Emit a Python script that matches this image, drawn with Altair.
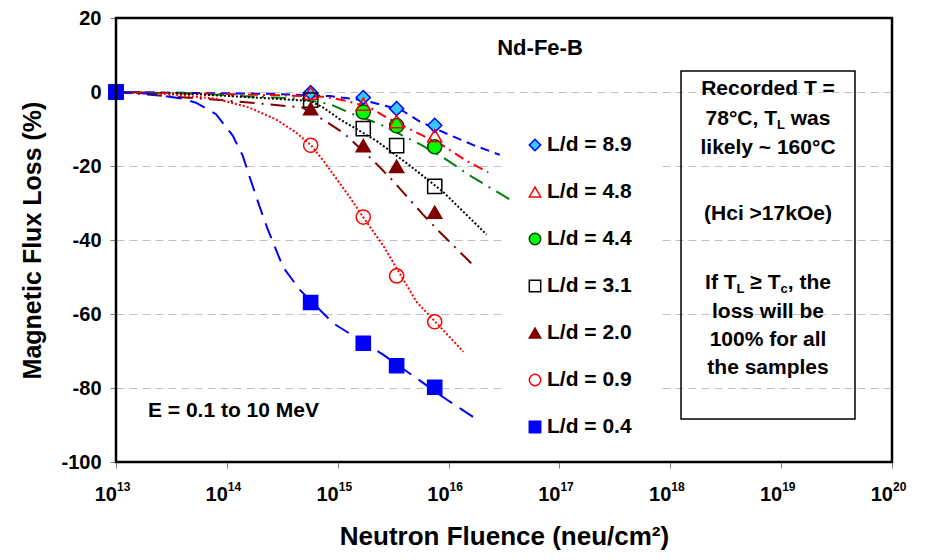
import altair as alt
import pandas as pd

# ---------------- data ----------------
series = ["L/d = 8.9", "L/d = 4.8", "L/d = 4.4", "L/d = 3.1",
          "L/d = 2.0", "L/d = 0.9", "L/d = 0.4"]

fluence = [1e13, 5.7e14, 1.7e15, 3.4e15, 7.5e15]
loss_89 = [0, -0.2, -1.5, -4.5, -9.0]
loss_48 = [0, -0.3, -3.3, -8.0, -11.8]
loss_44 = [0, None, -5.4, -9.1, -14.8]
loss_31 = [0, -2.2, -9.9, -14.5, -25.5]
loss_20 = [0, -4.5, -14.5, -20.1, -32.5]
loss_09 = [0, -14.4, -33.8, -49.7, -62.1]
loss_04 = [0, -56.9, -67.9, -74.0, -79.8]

# trend curves
c89_x = [1e13, 2.45e14, 8.51e14, 1.70e15, 3.77e15, 5.51e15, 9.86e15, 1.66e16, 2.90e16]
c89_y = [0, -0.5, -1.1, -2.2, -4.9, -8.0, -11.4, -14.3, -17.0]
c48_x = [1e13, 5.71e13, 3.01e14, 7.67e14, 1.20e15, 1.95e15, 2.76e15, 5.51e15, 8.93e15, 1.45e16, 2.28e16]
c48_y = [0, -0.4, -0.9, -1.3, -2.4, -4.2, -6.9, -11.4, -14.5, -18.6, -21.7]
c44_x = [1e13, 5.71e13, 1.61e14, 4.56e14, 8.51e14, 1.38e15, 2.40e15, 5.51e15, 8.93e15, 1.66e16, 3.70e16]
c44_y = [0, -0.5, -1.2, -1.8, -3.3, -6.0, -8.7, -14.1, -17.7, -23.1, -29.3]
c31_x = [1e13, 4.55e13, 1.07e14, 5.61e14, 7.40e14, 1.05e15, 2.24e15, 4.48e15, 8.93e15, 2.20e16]
c31_y = [0, -0.5, -1.1, -2.4, -4.2, -7.4, -13.2, -19.9, -27.0, -38.5]
c20_x = [1e13, 2.83e13, 7.45e13, 1.96e14, 4.82e14, 7.67e14, 1.12e15, 1.82e15, 2.32e15,
         3.13e15, 5.83e15, 8.36e15, 1.26e16, 1.64e16]
c20_y = [0, -1.1, -2.0, -3.1, -4.2, -7.8, -11.0, -16.8, -19.9, -23.9, -33.0, -37.9, -43.2, -46.6]
c09_x = [1e13, 2.82e13, 7.98e13, 1.59e14, 2.77e14, 4.20e14, 5.73e14, 7.40e14, 9.77e14,
         1.29e15, 1.67e15, 2.57e15, 5.14e15, 1.36e16]
c09_y = [0, -0.5, -1.8, -4.2, -7.4, -10.9, -14.4, -18.5, -23.5, -28.5, -33.5, -41.5, -56.7, -70.2]
c04_x = [1e13, 2.03e13, 3.99e13, 5.26e13, 7.98e13, 1.13e14, 1.39e14, 1.59e14, 1.96e14,
         2.33e14, 3.21e14, 4.56e14, 9.10e14, 2.57e15, 9.59e15, 1.76e16]
c04_y = [0, -0.5, -1.8, -2.9, -6.0, -11.8, -17.2, -22.6, -30.7, -37.0, -47.3, -53.5,
         -62.5, -71.0, -83.1, -88.3]

decades = [1e13, 1e14, 1e15, 1e16, 1e17, 1e18, 1e19, 1e20]
exponents = ["13", "14", "15", "16", "17", "18", "19", "20"]
y_ticks = [20, 0, -20, -40, -60, -80, -100]

title_text = "Nd-Fe-B"
energy_text = "E = 0.1 to 10 MeV"
x_title = "Neutron Fluence (neu/cm²)"
y_title = "Magnetic Flux Loss (%)"

# ---------------- styles ----------------
shapes = ["diamond", "triangle-up", "circle", "square", "triangle-up", "circle", "square"]
fills = ["#33CCFF", "transparent", "#00FF00", "transparent", "#800000", "transparent", "#0000FF"]
mstrokes = ["#0000FF", "#FF0000", "#004000", "#000000", "#800000", "#FF0000", "#0000FF"]
lstrokes = ["#0000FF", "#FF0000", "#008000", "#000000", "#800000", "#FF0000", "#0000FF"]
dashes = [[9, 6], [10, 5, 2, 5], [15, 7, 2, 7], [2, 2], [15, 7, 2, 7], [2, 2], [16, 9]]

FONT = "Liberation Sans"
W, H = 776, 444

# ---------------- tables ----------------
pt_loss = {"L/d = 8.9": loss_89, "L/d = 4.8": loss_48, "L/d = 4.4": loss_44,
           "L/d = 3.1": loss_31, "L/d = 2.0": loss_20, "L/d = 0.9": loss_09,
           "L/d = 0.4": loss_04}
curves = {"L/d = 8.9": (c89_x, c89_y), "L/d = 4.8": (c48_x, c48_y),
          "L/d = 4.4": (c44_x, c44_y), "L/d = 3.1": (c31_x, c31_y),
          "L/d = 2.0": (c20_x, c20_y), "L/d = 0.9": (c09_x, c09_y),
          "L/d = 0.4": (c04_x, c04_y)}

draw_order = ["L/d = 8.9", "L/d = 4.4", "L/d = 4.8", "L/d = 3.1",
              "L/d = 2.0", "L/d = 0.9", "L/d = 0.4"]
prow = []
for s in draw_order:
    for f, v in zip(fluence, pt_loss[s]):
        if v is not None:
            prow.append({"series": s, "fluence": f, "loss": v})
pts = pd.DataFrame(prow)

crow = []
for s in series:
    xs, ys = curves[s]
    for f, v in zip(xs, ys):
        crow.append({"series": s, "fluence": f, "loss": v})
cdf = pd.DataFrame(crow)

# ---------------- scales / axes ----------------
xsc = alt.Scale(type="log", domain=[1e13, 1e20], nice=False)
ysc = alt.Scale(domain=[-100, 20], nice=False, zero=False)

xaxis = alt.Axis(values=decades, labels=False, ticks=True, tickSize=6, tickColor="#808080",
                 tickWidth=1, domain=False, grid=False, title=x_title, titleFont=FONT,
                 titleFontSize=26, titleFontWeight="bold", titleColor="black",
                 titlePadding=55)
yaxis = alt.Axis(values=y_ticks, grid=True, gridDash=[8, 5], gridColor="#c0c0c0",
                 gridWidth=1, domain=False, tickSize=6, tickColor="#808080",
                 labelExpr="toString(datum.value)",
                 labelFont=FONT, labelFontSize=20, labelFontWeight="bold", labelColor="black",
                 labelPadding=9, title=y_title, titleFont=FONT, titleFontSize=25,
                 titleFontWeight="bold", titleColor="black", titlePadding=15)

X = alt.X("fluence:Q", scale=xsc, axis=xaxis)
Y = alt.Y("loss:Q", scale=ysc, axis=yaxis)

shape_enc = alt.Shape("series:N", scale=alt.Scale(domain=series, range=shapes), legend=None)
fill_enc = alt.Fill("series:N", scale=alt.Scale(domain=series, range=fills), legend=None)
mstroke_enc = alt.Stroke("series:N", scale=alt.Scale(domain=series, range=mstrokes), legend=None)

one = pd.DataFrame({"k": [0]})

legend_bg = alt.Chart(one).mark_rect(color="white").encode(
    x=alt.value(388), x2=alt.value(546), y=alt.value(105), y2=alt.value(431))

lines = alt.Chart(cdf).mark_line(strokeWidth=2, strokeCap="butt").encode(
    x=X, y=Y,
    stroke=alt.Stroke("series:N", scale=alt.Scale(domain=series, range=lstrokes), legend=None),
    strokeDash=alt.StrokeDash("series:N", scale=alt.Scale(domain=series, range=dashes), legend=None),
    order=alt.Order("fluence:Q"))

points = alt.Chart(pts).mark_point(filled=True, size=200, strokeWidth=1.5, opacity=1).encode(
    x=X, y=Y, shape=shape_enc, fill=fill_enc, stroke=mstroke_enc)

# legend (rows placed inside the plot, in data units of the y scale)
leg = pd.DataFrame({"series": series, "row": list(range(len(series)))})
leg_base = alt.Chart(leg).transform_calculate(
    loss="20 - (127 + 47 * datum.row) * 120 / 444")
leg_pts = leg_base.mark_point(filled=True, size=130, strokeWidth=1.5, opacity=1).encode(
    x=alt.value(419), y=Y, shape=shape_enc, fill=fill_enc, stroke=mstroke_enc)
leg_txt = leg_base.mark_text(align="left", baseline="middle", font=FONT, fontSize=21,
                             fontWeight="bold", color="black").encode(
    x=alt.value(431), y=Y, text="series:N")

# x tick labels as 10 with superscript exponent
xl = pd.DataFrame({"fluence": decades, "exp": exponents})
xl_base = alt.Chart(xl).transform_calculate(ten="'10'")
xl_ten = xl_base.mark_text(align="right", baseline="alphabetic", font=FONT, fontSize=20,
                           fontWeight="bold", color="black", dx=1).encode(
    x=X, y=alt.value(H + 39), text="ten:N")
xl_exp = xl_base.mark_text(align="left", baseline="alphabetic", font=FONT, fontSize=12,
                           fontWeight="bold", color="black", dx=1).encode(
    x=X, y=alt.value(H + 29), text="exp:N")


def txt(s, x, y, size, align="center", baseline="middle", dy=0):
    return alt.Chart(pd.DataFrame({"t": [s]})).mark_text(
        align=align, baseline=baseline, font=FONT, fontSize=size, fontWeight="bold",
        color="black", dy=dy).encode(x=alt.value(x), y=alt.value(y), text="t:N")


# annotation box text (subscripts placed as separate small texts)
BW = {' ': 278, ',': 278, '°': 400, '7': 556, '8': 556, 'C': 722, 'T': 611, 'L': 611,
      'w': 778, 'a': 556, 's': 556, 'I': 278, 'f': 333, '≥': 549, 'c': 556, 't': 333,
      'h': 611, 'e': 556}
FS, SS = 21, 13


def seg_line(segs, cx, y):
    widths = [sum(BW[ch] for ch in s) * (SS if sub else FS) / 1000 for s, sub in segs]
    x0 = cx - sum(widths) / 2
    out = []
    for (s, sub), w in zip(segs, widths):
        size = SS if sub else FS
        lead = len(s) - len(s.lstrip(" "))
        out.append(txt(s.lstrip(" "), x0 + lead * BW[' '] * size / 1000, y, size,
                       align="left", dy=6 if sub else 0))
        x0 += w
    return out


box_cx = 652
box_lines = [("Recorded T =", 71), ("likely ~ 160°C", 130), ("(Hci >17kOe)", 196),
             ("loss will be", 294), ("100% for all", 322), ("the samples", 350)]
box_marks = [txt(s, box_cx, y, FS) for s, y in box_lines]
box_marks += seg_line([("78°C, T", False), ("L", True), (" was", False)], box_cx, 101)
box_marks += seg_line([("If T", False), ("L", True), (" ≥ T", False),
                       ("c", True), (", the", False)], box_cx, 265)

box = alt.Chart(one).mark_rect(filled=False, stroke="black", strokeWidth=1.5).encode(
    x=alt.value(565), x2=alt.value(739), y=alt.value(53), y2=alt.value(401))

frame = alt.Chart(one).mark_rect(filled=False, stroke="black", strokeWidth=2.5).encode(
    x=alt.value(0), x2=alt.value(W), y=alt.value(0), y2=alt.value(H))

chart = alt.layer(
    legend_bg, lines, points, leg_pts, leg_txt, xl_ten, xl_exp, box,
    txt(title_text, 424, 30, 22), txt(energy_text, 32, 393, 21, align="left"),
    *box_marks, frame
).resolve_scale(
    stroke="independent", fill="shared", shape="shared", strokeDash="independent"
).properties(
    width=W, height=H,
    autosize=alt.AutoSizeParams(type="none"),
    padding={"left": 108, "top": 10, "right": 34, "bottom": 98},
).configure_view(stroke=None).configure(font=FONT)

chart.save("out.html", embed_options={"renderer": "svg", "actions": False})
